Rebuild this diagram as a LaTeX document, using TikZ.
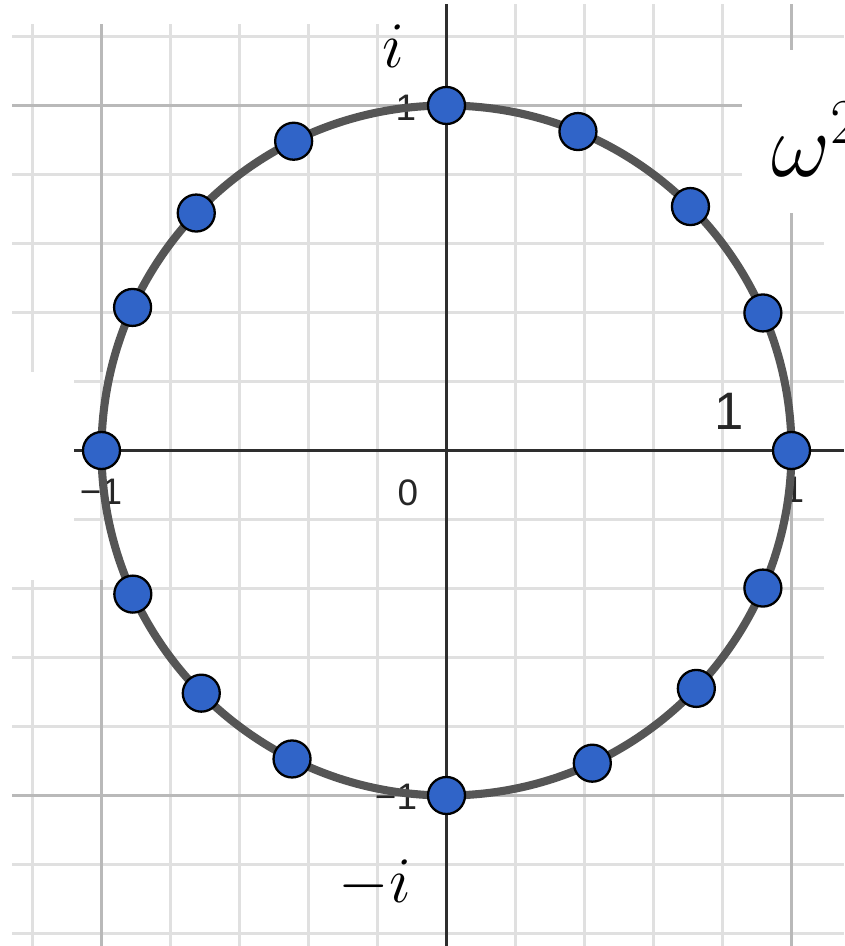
\RequirePackage{fix-cm}
\documentclass[tikz,border=0pt]{standalone}
\usepackage{fontspec}
\newfontfamily\ejefont{Liberation Sans}
\definecolor{puntoazul}{RGB}{48,100,200}
\definecolor{rejilla}{RGB}{224,224,224}
\definecolor{rejillamayor}{RGB}{185,185,185}
\definecolor{trazo}{RGB}{85,85,85}
\begin{document}
\begin{tikzpicture}[
    x=6.9cm, y=6.9cm,
    raiz/.style={circle,draw=black,line width=1.3pt,fill=puntoazul,
        inner sep=0pt,minimum size=.74cm},
    numero/.style={font=\ejefont\fontsize{21}{21}\selectfont,
        text=black!85,inner sep=0pt},
    etiqueta/.style={inner sep=0pt,anchor=base}]
    \useasboundingbox (-1.2942,-1.4362) rectangle (1.1522,1.3058);
    \clip (-1.2942,-1.4362) rectangle (1.1522,1.3058);
    \coordinate (O) at (0,0);

    % Cuadricula de fondo, con los recortes de la captura.
    \draw[rejilla,line width=1.3pt] (-1.258,-1.4362) grid[step=.2] (1.1522,1.294);
    \fill[white] (-1.2942,1.236) rectangle (-.1,1.3058);
    \fill[white] (.8565,.6884) rectangle (1.1522,1.1609);
    \fill[white] (1.093,.465) rectangle (1.1522,.6884);
    \fill[white] (1.093,-.723) rectangle (1.1522,-.056);
    \fill[white] (-1.2942,-.3754) rectangle (-1.0797,.2275);
    \draw[rejillamayor,line width=1.4pt]
        (-1,-1.4362) -- (-1,-.3754) (-1,.2275) -- (-1,1.236)
        (1,-1.4362) -- (1,.6884) (1,1.1609) -- (1,1.294)
        (-1.258,1) -- (.8565,1)
        (-1.258,-1) -- (1.1522,-1);
    \draw[black!82,line width=1.4pt]
        (-1.0797,0) -- (1.1522,0)
        (0,-1.4362) -- (0,1.294);

    \node[numero] (cero) at (-.1116,-.1232) {0};
    \node[numero] (menosunox) at (-1.0014,-.1203) {−1};
    \node[numero] (unox) at (1.007,-.114) {1};
    \node[numero] (unoy) at (-.1175,.9928) {1};
    \node[numero] (menosunoy) at (-.1464,-1.0043) {−1};
    \node[numero,font=\ejefont\fontsize{30}{30}\selectfont] (uno) at (.8188,.1145) {1};

    % Circulo unidad y raices.
    \draw[trazo,line width=4.6pt] (O) circle (1);
    \foreach \a [count=\k from 0] in
        {0,23.5,45,67.6,90,116.3,136.5,155.5,180,-155.4,-135.3,-116.6,-90,-65,-43.6,-23.5} {
        \node[raiz] (w\k) at (\a:1) {};
    }

    \node[etiqueta,font=\fontsize{37}{37}\selectfont] (imag) at (-.155,1.110) {$i$};
    \node[etiqueta,font=\fontsize{37}{37}\selectfont] (menosimag) at (-.2072,-1.3087) {$-i$};
    \node[etiqueta,anchor=base west,font=\fontsize{52}{52}\selectfont] (omega)
        at (.94,.7928) {$\omega^2$};
\end{tikzpicture}
\end{document}
